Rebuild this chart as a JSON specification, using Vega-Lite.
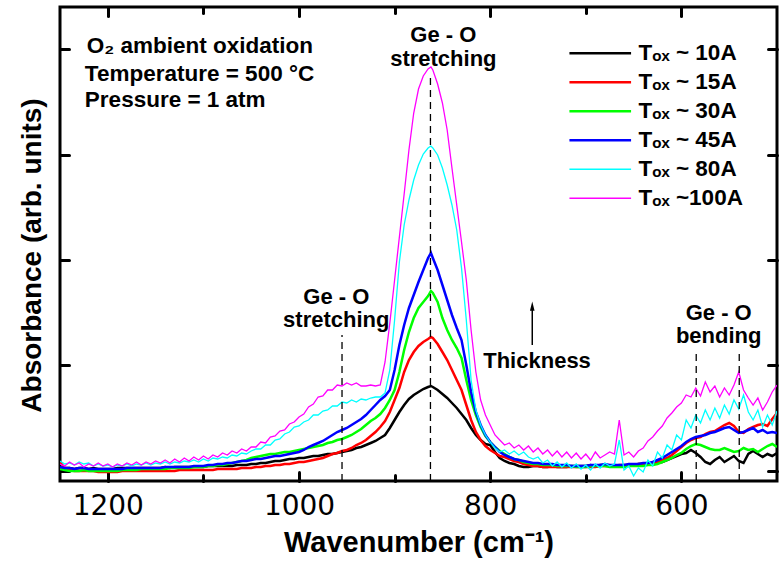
{
  "$schema": "https://vega.github.io/schema/vega-lite/v6.json",
  "width": 717,
  "height": 474,
  "autosize": {"type": "none"},
  "padding": {"left": 60, "top": 7, "right": 2, "bottom": 85},
  "background": "white",
  "config": {
    "view": {"stroke": "black", "strokeWidth": 3},
    "font": "Liberation Sans",
    "axis": {"grid": false, "domain": false, "tickColor": "black", "tickWidth": 3, "tickCap": "round", "labelColor": "black", "titleColor": "black", "labelFont": "DejaVu Sans", "titleFont": "Liberation Sans", "titleFontWeight": "bold"}
  },
  "datasets": {
    "spec": [
      {"w":1250,"k":14,"r":19,"g":12,"b":14,"c":20,"m":17},
      {"w":1245,"k":13,"r":13,"g":11,"b":13,"c":17,"m":15},
      {"w":1240,"k":13,"r":11,"g":10,"b":13,"c":18,"m":19},
      {"w":1235,"k":12,"r":10,"g":10,"b":12,"c":16,"m":16},
      {"w":1230,"k":13,"r":10,"g":10,"b":13,"c":19,"m":18},
      {"w":1225,"k":13,"r":10,"g":11,"b":13,"c":17,"m":14},
      {"w":1220,"k":12,"r":10,"g":10,"b":12,"c":18,"m":17},
      {"w":1215,"k":13,"r":10,"g":10,"b":12,"c":15,"m":15},
      {"w":1210,"k":12,"r":9,"g":10,"b":12,"c":17,"m":18},
      {"w":1205,"k":12,"r":9,"g":10,"b":12,"c":15,"m":15},
      {"w":1200,"k":12,"r":9,"g":10,"b":12,"c":16,"m":17},
      {"w":1195,"k":12,"r":9,"g":10,"b":12,"c":14,"m":14},
      {"w":1190,"k":13,"r":9,"g":10,"b":12,"c":16,"m":17},
      {"w":1185,"k":13,"r":10,"g":11,"b":12,"c":15,"m":15},
      {"w":1180,"k":13,"r":10,"g":11,"b":13,"c":17,"m":18},
      {"w":1175,"k":13,"r":10,"g":11,"b":13,"c":15,"m":16},
      {"w":1170,"k":13,"r":10,"g":11,"b":13,"c":17,"m":19},
      {"w":1165,"k":13,"r":10,"g":12,"b":13,"c":16,"m":16},
      {"w":1160,"k":13,"r":10,"g":12,"b":13,"c":18,"m":19},
      {"w":1155,"k":13,"r":10,"g":12,"b":13,"c":16,"m":17},
      {"w":1150,"k":13,"r":10,"g":12,"b":13,"c":18,"m":20},
      {"w":1145,"k":13,"r":10,"g":12,"b":13,"c":17,"m":18},
      {"w":1140,"k":14,"r":10,"g":12,"b":14,"c":19,"m":21},
      {"w":1135,"k":13,"r":10,"g":13,"b":14,"c":17,"m":18},
      {"w":1130,"k":14,"r":10,"g":13,"b":14,"c":19,"m":22},
      {"w":1125,"k":14,"r":11,"g":13,"b":14,"c":18,"m":19},
      {"w":1120,"k":14,"r":11,"g":13,"b":14,"c":20,"m":23},
      {"w":1115,"k":14,"r":11,"g":13,"b":14,"c":19,"m":20},
      {"w":1110,"k":14,"r":11,"g":14,"b":15,"c":21,"m":24},
      {"w":1105,"k":14,"r":11,"g":14,"b":15,"c":19,"m":21},
      {"w":1100,"k":14,"r":11,"g":14,"b":15,"c":22,"m":25},
      {"w":1095,"k":15,"r":11,"g":15,"b":16,"c":20,"m":22},
      {"w":1090,"k":15,"r":11,"g":15,"b":16,"c":23,"m":26},
      {"w":1085,"k":15,"r":12,"g":16,"b":17,"c":22,"m":24},
      {"w":1080,"k":15,"r":12,"g":16,"b":17,"c":24,"m":28},
      {"w":1075,"k":15,"r":12,"g":17,"b":18,"c":23,"m":26},
      {"w":1070,"k":15,"r":12,"g":18,"b":18,"c":26,"m":30},
      {"w":1065,"k":16,"r":12,"g":19,"b":19,"c":25,"m":28},
      {"w":1060,"k":16,"r":13,"g":20,"b":20,"c":28,"m":32},
      {"w":1055,"k":16,"r":13,"g":21,"b":20,"c":27,"m":30},
      {"w":1050,"k":17,"r":13,"g":23,"b":21,"c":30,"m":34},
      {"w":1045,"k":17,"r":14,"g":24,"b":22,"c":32,"m":34},
      {"w":1040,"k":18,"r":14,"g":25,"b":22,"c":32,"m":39},
      {"w":1035,"k":18,"r":15,"g":26,"b":23,"c":36,"m":38},
      {"w":1030,"k":19,"r":15,"g":27,"b":24,"c":36,"m":44},
      {"w":1025,"k":20,"r":16,"g":27,"b":25,"c":41,"m":45},
      {"w":1020,"k":20,"r":16,"g":28,"b":25,"c":42,"m":50},
      {"w":1015,"k":21,"r":17,"g":29,"b":26,"c":47,"m":51},
      {"w":1010,"k":22,"r":17,"g":29,"b":27,"c":49,"m":57},
      {"w":1005,"k":22,"r":18,"g":30,"b":28,"c":54,"m":59},
      {"w":1000,"k":23,"r":19,"g":31,"b":29,"c":55,"m":64},
      {"w":995,"k":23,"r":19,"g":32,"b":31,"c":59,"m":67},
      {"w":990,"k":24,"r":20,"g":33,"b":34,"c":61,"m":74},
      {"w":985,"k":25,"r":21,"g":34,"b":36,"c":66,"m":77},
      {"w":980,"k":25,"r":22,"g":35,"b":38,"c":66,"m":84},
      {"w":975,"k":26,"r":23,"g":36,"b":40,"c":70,"m":85},
      {"w":970,"k":27,"r":25,"g":38,"b":43,"c":71,"m":91},
      {"w":965,"k":27,"r":27,"g":39,"b":46,"c":75,"m":91},
      {"w":960,"k":28,"r":28,"g":41,"b":49,"c":75,"m":96},
      {"w":955,"k":29,"r":30,"g":42,"b":51,"c":79,"m":95},
      {"w":950,"k":30,"r":31,"g":44,"b":53,"c":78,"m":98},
      {"w":945,"k":31,"r":33,"g":46,"b":56,"c":81,"m":96},
      {"w":940,"k":33,"r":36,"g":49,"b":59,"c":79,"m":98},
      {"w":935,"k":34,"r":38,"g":52,"b":62,"c":82,"m":95},
      {"w":930,"k":36,"r":41,"g":56,"b":66,"c":81,"m":95},
      {"w":925,"k":38,"r":45,"g":60,"b":71,"c":83,"m":96},
      {"w":920,"k":40,"r":49,"g":63,"b":76,"c":84,"m":95},
      {"w":915,"k":43,"r":54,"g":67,"b":81,"c":84,"m":96},
      {"w":910,"k":46,"r":60,"g":73,"b":85,"c":88,"m":119},
      {"w":905,"k":53,"r":69,"g":81,"b":91,"c":111,"m":158},
      {"w":900,"k":61,"r":81,"g":91,"b":111,"c":161,"m":201},
      {"w":895,"k":69,"r":93,"g":109,"b":136,"c":219,"m":244},
      {"w":890,"k":76,"r":109,"g":131,"b":156,"c":256,"m":287},
      {"w":885,"k":82,"r":121,"g":149,"b":173,"c":281,"m":331},
      {"w":880,"k":86,"r":129,"g":163,"b":186,"c":301,"m":368},
      {"w":875,"k":89,"r":135,"g":173,"b":199,"c":316,"m":392},
      {"w":870,"k":92,"r":139,"g":179,"b":211,"c":327,"m":405},
      {"w":865,"k":94,"r":142,"g":185,"b":223,"c":333,"m":412},
      {"w":862,"k":95,"r":144,"g":190,"b":228,"c":335,"m":414},
      {"w":860,"k":94,"r":143,"g":188,"b":223,"c":333,"m":411},
      {"w":855,"k":91,"r":137,"g":179,"b":211,"c":326,"m":397},
      {"w":850,"k":87,"r":129,"g":163,"b":196,"c":313,"m":378},
      {"w":845,"k":83,"r":121,"g":151,"b":181,"c":296,"m":351},
      {"w":840,"k":78,"r":111,"g":141,"b":166,"c":276,"m":313},
      {"w":835,"k":73,"r":101,"g":133,"b":153,"c":251,"m":276},
      {"w":830,"k":67,"r":91,"g":123,"b":141,"c":213,"m":239},
      {"w":825,"k":61,"r":76,"g":101,"b":116,"c":161,"m":201},
      {"w":820,"k":53,"r":61,"g":81,"b":89,"c":101,"m":151},
      {"w":815,"k":46,"r":49,"g":66,"b":69,"c":71,"m":109},
      {"w":810,"k":41,"r":41,"g":54,"b":56,"c":56,"m":81},
      {"w":805,"k":37,"r":35,"g":45,"b":46,"c":46,"m":66},
      {"w":800,"k":36,"r":31,"g":39,"b":39,"c":39,"m":56},
      {"w":795,"k":29,"r":28,"g":34,"b":34,"c":33,"m":46},
      {"w":790,"k":23,"r":25,"g":30,"b":29,"c":29,"m":41},
      {"w":785,"k":20,"r":24,"g":27,"b":26,"c":31,"m":36},
      {"w":780,"k":18,"r":22,"g":24,"b":24,"c":27,"m":38},
      {"w":775,"k":17,"r":20,"g":22,"b":22,"c":30,"m":33},
      {"w":770,"k":15,"r":19,"g":21,"b":21,"c":26,"m":36},
      {"w":765,"k":14,"r":17,"g":19,"b":20,"c":29,"m":31},
      {"w":760,"k":14,"r":16,"g":18,"b":19,"c":24,"m":35},
      {"w":755,"k":15,"r":15,"g":17,"b":18,"c":22,"m":29},
      {"w":750,"k":15,"r":15,"g":17,"b":18,"c":24,"m":33},
      {"w":745,"k":14,"r":14,"g":16,"b":17,"c":18,"m":27},
      {"w":740,"k":14,"r":14,"g":16,"b":17,"c":21,"m":31},
      {"w":735,"k":15,"r":14,"g":16,"b":17,"c":15,"m":25},
      {"w":730,"k":14,"r":14,"g":15,"b":16,"c":19,"m":30},
      {"w":725,"k":14,"r":14,"g":15,"b":16,"c":14,"m":24},
      {"w":720,"k":14,"r":14,"g":15,"b":16,"c":18,"m":29},
      {"w":715,"k":15,"r":14,"g":15,"b":15,"c":13,"m":23},
      {"w":710,"k":15,"r":14,"g":14,"b":15,"c":17,"m":28},
      {"w":705,"k":15,"r":14,"g":14,"b":15,"c":12,"m":22},
      {"w":700,"k":15,"r":14,"g":14,"b":15,"c":16,"m":27},
      {"w":695,"k":16,"r":14,"g":15,"b":16,"c":11,"m":21},
      {"w":690,"k":15,"r":14,"g":15,"b":16,"c":17,"m":29},
      {"w":685,"k":16,"r":15,"g":15,"b":16,"c":13,"m":23},
      {"w":680,"k":16,"r":15,"g":15,"b":17,"c":18,"m":26},
      {"w":675,"k":15,"r":15,"g":14,"b":16,"c":15,"m":29},
      {"w":670,"k":16,"r":15,"g":14,"b":16,"c":17,"m":27},
      {"w":665,"k":15,"r":16,"g":14,"b":16,"c":41,"m":61},
      {"w":660,"k":15,"r":16,"g":14,"b":16,"c":11,"m":26},
      {"w":655,"k":16,"r":16,"g":15,"b":17,"c":15,"m":29},
      {"w":650,"k":16,"r":16,"g":15,"b":17,"c":5,"m":24},
      {"w":645,"k":17,"r":17,"g":15,"b":17,"c":13,"m":30},
      {"w":640,"k":17,"r":17,"g":15,"b":18,"c":9,"m":33},
      {"w":635,"k":17,"r":17,"g":16,"b":18,"c":21,"m":40},
      {"w":630,"k":18,"r":18,"g":16,"b":19,"c":15,"m":44},
      {"w":625,"k":18,"r":19,"g":17,"b":21,"c":29,"m":50},
      {"w":620,"k":19,"r":21,"g":19,"b":23,"c":23,"m":55},
      {"w":615,"k":21,"r":23,"g":21,"b":26,"c":36,"m":63},
      {"w":610,"k":23,"r":26,"g":23,"b":29,"c":31,"m":68},
      {"w":605,"k":25,"r":30,"g":26,"b":32,"c":46,"m":74},
      {"w":600,"k":27,"r":34,"g":28,"b":35,"c":41,"m":78},
      {"w":595,"k":28,"r":38,"g":32,"b":39,"c":61,"m":86},
      {"w":590,"k":31,"r":41,"g":35,"b":42,"c":53,"m":84},
      {"w":585,"k":28,"r":43,"g":37,"b":44,"c":66,"m":93},
      {"w":580,"k":24,"r":44,"g":36,"b":45,"c":58,"m":85},
      {"w":575,"k":19,"r":47,"g":34,"b":46,"c":71,"m":99},
      {"w":570,"k":17,"r":49,"g":32,"b":48,"c":61,"m":89},
      {"w":565,"k":21,"r":50,"g":31,"b":49,"c":73,"m":95},
      {"w":560,"k":24,"r":53,"g":31,"b":51,"c":63,"m":84},
      {"w":555,"k":19,"r":56,"g":33,"b":53,"c":76,"m":93},
      {"w":550,"k":22,"r":58,"g":31,"b":54,"c":67,"m":86},
      {"w":545,"k":25,"r":55,"g":29,"b":51,"c":81,"m":96},
      {"w":540,"k":20,"r":49,"g":30,"b":48,"c":72,"m":109},
      {"w":535,"k":18,"r":48,"g":33,"b":49,"c":86,"m":91},
      {"w":530,"k":27,"r":52,"g":31,"b":51,"c":69,"m":83},
      {"w":525,"k":30,"r":54,"g":32,"b":53,"c":61,"m":76},
      {"w":520,"k":27,"r":56,"g":29,"b":49,"c":71,"m":83},
      {"w":515,"k":24,"r":57,"g":32,"b":51,"c":54,"m":71},
      {"w":510,"k":27,"r":55,"g":35,"b":48,"c":66,"m":79},
      {"w":505,"k":25,"r":62,"g":37,"b":49,"c":56,"m":89},
      {"w":500,"k":28,"r":68,"g":34,"b":48,"c":70,"m":96}
    ],
    "notes": [
      {"w":849,"h":446,"t":"Ge - O"},
      {"w":849,"h":422,"t":"stretching"},
      {"w":961,"h":184,"t":"Ge - O"},
      {"w":961,"h":161,"t":"stretching"},
      {"w":751,"h":120,"t":"Thickness"},
      {"w":561,"h":168,"t":"Ge - O"},
      {"w":561,"h":145,"t":"bending"}
    ],
    "notesLeft": [
      {"w":1222,"h":435,"t":"O₂ ambient oxidation"},
      {"w":1224,"h":407,"t":"Temperature = 500 °C"},
      {"w":1224,"h":381,"t":"Pressure = 1 atm"}
    ],
    "dash": [
      {"w":955,"h1":0,"h2":146},
      {"w":862.5,"h1":0,"h2":406},
      {"w":584.5,"h1":0,"h2":128},
      {"w":539.5,"h1":0,"h2":128}
    ],
    "arrow": [
      {"w":756,"h1":136,"h2":172}
    ],
    "arrowHead": [
      {"w":756,"h":174}
    ]
  },
  "layer": [
    {
      "data": {"name": "spec"},
      "transform": [{"fold": ["k","r","g","b"], "as": ["s","a"]}],
      "mark": {"type": "line", "strokeWidth": 2.5, "clip": true},
      "encoding": {
        "x": {"field": "w", "type": "quantitative", "scale": {"domain": [1250, 500], "nice": false, "zero": false},
              "axis": {"orient": "bottom", "values": [1200,1000,800,600], "tickSize": -9, "labelFontSize": 28, "labelPadding": 20, "format": "d", "title": "Wavenumber (cm⁻¹)", "titleFontSize": 29, "titlePadding": 8}},
        "y": {"field": "a", "type": "quantitative", "scale": {"domain": [0, 474], "nice": false, "zero": false},
              "axis": {"orient": "left", "values": [10.5,115.8,221.1,326.4,431.7], "tickSize": -9, "labels": false, "title": "Absorbance (arb. units)", "titleFontSize": 28, "titlePadding": 12, "titleY": 248}},
        "color": {"field": "s", "type": "nominal",
                  "scale": {"domain": ["k","r","g","b","c","m"], "range": ["#000000","#ff0000","#00ff00","#0000ff","#00ffff","#ff00ff"]},
                  "legend": {"orient": "none", "legendX": 529, "legendY": 35, "title": null, "padding": 0,
                             "symbolType": "stroke", "symbolSize": 3800, "symbolStrokeWidth": 2.5,
                             "labelFont": "Liberation Sans", "labelFontWeight": "bold", "labelFontSize": 22.5, "labelColor": "black",
                             "labelOffset": 27, "rowPadding": 6,
                             "labelExpr": "datum.value == 'k' ? 'Tₒₓ ~ 10A' : datum.value == 'r' ? 'Tₒₓ ~ 15A' : datum.value == 'g' ? 'Tₒₓ ~ 30A' : datum.value == 'b' ? 'Tₒₓ ~ 45A' : datum.value == 'c' ? 'Tₒₓ ~ 80A' : 'Tₒₓ ~100A'",
                             "encode": {"symbols": {"update": {"strokeWidth": {"signal": "datum.value == 'c' || datum.value == 'm' ? 1.5 : 2.5"}}}}}}
      }
    },
    {
      "data": {"name": "spec"},
      "transform": [{"fold": ["c","m"], "as": ["s","a"]}],
      "mark": {"type": "line", "strokeWidth": 1.3, "clip": true},
      "encoding": {
        "x": {"field": "w", "type": "quantitative", "scale": {"domain": [1250, 500], "nice": false, "zero": false},
              "axis": {"orient": "top", "values": [1200,1000,800,600], "tickSize": -9, "labels": false, "title": null}},
        "y": {"field": "a", "type": "quantitative", "scale": {"domain": [0, 474], "nice": false, "zero": false},
              "axis": {"orient": "right", "values": [10.5,115.8,221.1,326.4,431.7], "tickSize": -9, "labels": false, "title": null}},
        "color": {"field": "s", "type": "nominal", "scale": {"domain": ["k","r","g","b","c","m"], "range": ["#000000","#ff0000","#00ff00","#0000ff","#00ffff","#ff00ff"]}}
      }
    },
    {
      "data": {"name": "dash"},
      "mark": {"type": "rule", "color": "black", "strokeWidth": 1.3, "strokeDash": [7, 5]},
      "encoding": {
        "x": {"field": "w", "type": "quantitative", "scale": {"domain": [1250, 500], "nice": false, "zero": false},
              "axis": {"orient": "bottom", "values": [1100,900,700], "tickSize": -6, "labels": false, "title": null}},
        "y": {"field": "h1", "type": "quantitative", "scale": {"domain": [0, 474], "nice": false, "zero": false}, "axis": null},
        "y2": {"field": "h2"}
      }
    },
    {
      "data": {"name": "notes"},
      "mark": {"type": "text", "font": "Liberation Sans", "fontWeight": "bold", "fontSize": 22, "align": "center", "baseline": "middle", "color": "black"},
      "encoding": {
        "x": {"field": "w", "type": "quantitative", "scale": {"domain": [1250, 500], "nice": false, "zero": false},
              "axis": {"orient": "top", "values": [1100,900,700], "tickSize": -6, "labels": false, "title": null}},
        "y": {"field": "h", "type": "quantitative", "scale": {"domain": [0, 474], "nice": false, "zero": false}, "axis": null},
        "text": {"field": "t"}
      }
    },
    {
      "data": {"name": "notesLeft"},
      "mark": {"type": "text", "font": "Liberation Sans", "fontWeight": "bold", "fontSize": 22.5, "align": "left", "baseline": "middle", "color": "black"},
      "encoding": {
        "x": {"field": "w", "type": "quantitative", "scale": {"domain": [1250, 500], "nice": false, "zero": false}, "axis": null},
        "y": {"field": "h", "type": "quantitative", "scale": {"domain": [0, 474], "nice": false, "zero": false}, "axis": null},
        "text": {"field": "t"}
      }
    },
    {
      "data": {"name": "arrow"},
      "mark": {"type": "rule", "color": "black", "strokeWidth": 1.5},
      "encoding": {
        "x": {"field": "w", "type": "quantitative", "scale": {"domain": [1250, 500], "nice": false, "zero": false}, "axis": null},
        "y": {"field": "h1", "type": "quantitative", "scale": {"domain": [0, 474], "nice": false, "zero": false}, "axis": null},
        "y2": {"field": "h2"}
      }
    },
    {
      "data": {"name": "arrowHead"},
      "mark": {"type": "point", "shape": "M-0.6,1L0,-1.4L0.6,1Z", "filled": true, "color": "black", "size": 60, "opacity": 1},
      "encoding": {
        "x": {"field": "w", "type": "quantitative", "scale": {"domain": [1250, 500], "nice": false, "zero": false}, "axis": null},
        "y": {"field": "h", "type": "quantitative", "scale": {"domain": [0, 474], "nice": false, "zero": false}, "axis": null}
      }
    }
  ],
  "resolve": {"axis": {"x": "independent", "y": "independent"}}
}
